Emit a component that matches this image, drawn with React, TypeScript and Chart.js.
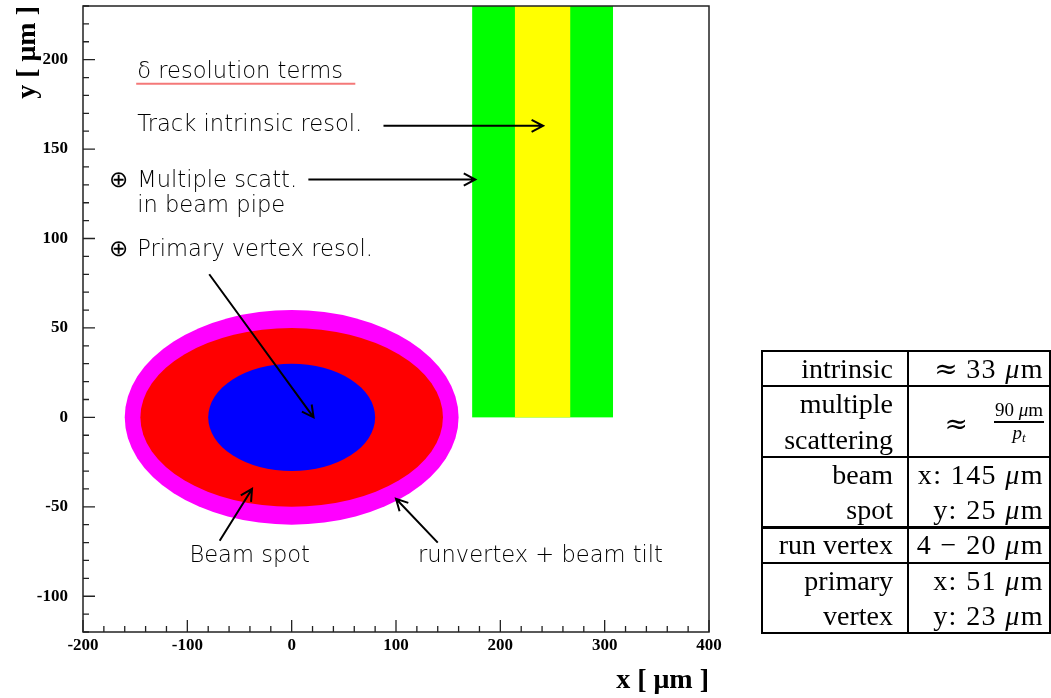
import React, { useEffect, useRef } from "react";
import { Chart, registerables } from "chart.js";

Chart.register(...registerables);

// Axis ranges and ticks (μm)
const X_MIN = -200;
const X_MAX = 400;
const Y_MIN = -120;
const Y_MAX = 230;
const xTickLabels = [-200, -100, 0, 100, 200, 300, 400];
const yTickLabels = [-100, -50, 0, 50, 100, 150, 200];
const X_MINOR_STEP = 20;
const Y_MINOR_STEP = 10;

// Track resolution bands: x extent, drawn from y = 0 up to the top of the frame
const bandNames = ["multiple scattering", "track intrinsic"];
const bandX0 = [173, 214];
const bandX1 = [308, 267];
const bandY0 = [0, 0];
const bandY1 = [230, 230];
const bandColors = ["#00ff00", "#ffff00"];

// Vertex ellipses centred on the origin (outermost first)
const ellipseNames = ["runvertex + beam tilt", "beam spot", "primary vertex"];
const ellipseCx = [0, 0, 0];
const ellipseCy = [0, 0, 0];
const ellipseRx = [160, 145, 80];
const ellipseRy = [60, 50, 30];
const ellipseColors = ["#ff00ff", "#ff0000", "#0000ff"];

// Annotation labels (left baseline, data coordinates)
const noteTexts = [
  "δ resolution terms",
  "Track intrinsic resol.",
  "⊕",
  "Multiple scatt.",
  "in beam pipe",
  "⊕",
  "Primary vertex resol.",
  "Beam spot",
  "runvertex + beam tilt",
];
const noteX = [-148, -148, -175, -148, -148, -175, -148, -98, 121];
const noteY = [190, 160, 129, 129, 115, 90, 90, -81, -81];

// Underline below the heading
const underlineX = [-149, 61];
const underlineY = 186.5;

// Arrows: start (x1, y1) -> head (x2, y2)
const arrowX1 = [88, 16, -79, -69, 140];
const arrowY1 = [163, 133, 80, -69, -70];
const arrowX2 = [241, 176, 21, -38, 100];
const arrowY2 = [163, 133, 0, -40, -45.5];

// Summary table
const tableLabels = [["intrinsic"], ["multiple", "scattering"], ["beam", "spot"], ["run vertex"], ["primary", "vertex"]];
const tableValues = [["≈ 33 μm"], ["FRACTION"], ["x: 145 μm", "y: 25 μm"], ["4 − 20 μm"], ["x: 51 μm", "y: 23 μm"]];
const fractionNumerator = "90 μm";

const NOTE_FONT = '200 22.6px "DejaVu Sans"';
const NOTE_COLOR = "#000";
const AXIS_FONT = "Liberation Serif";

function drawArrow(ctx: CanvasRenderingContext2D, x1: number, y1: number, x2: number, y2: number) {
  const ang = Math.atan2(y2 - y1, x2 - x1);
  const head = 13;
  const spread = Math.PI / 6.5;
  ctx.beginPath();
  ctx.moveTo(x1, y1);
  ctx.lineTo(x2, y2);
  ctx.moveTo(x2 - head * Math.cos(ang - spread), y2 - head * Math.sin(ang - spread));
  ctx.lineTo(x2, y2);
  ctx.lineTo(x2 - head * Math.cos(ang + spread), y2 - head * Math.sin(ang + spread));
  ctx.stroke();
}

const overlayPlugin = {
  id: "resolutionOverlay",
  beforeDatasetsDraw(chart: any) {
    const { ctx, chartArea: a, scales } = chart;
    const xs = scales.x;
    const ys = scales.y;
    ctx.save();
    ctx.beginPath();
    ctx.rect(a.left, a.top, a.right - a.left, a.bottom - a.top);
    ctx.clip();
    bandX0.forEach((x0, i) => {
      const px0 = xs.getPixelForValue(x0);
      const px1 = xs.getPixelForValue(bandX1[i]);
      const py0 = ys.getPixelForValue(bandY0[i]);
      const py1 = ys.getPixelForValue(bandY1[i]);
      ctx.fillStyle = bandColors[i];
      ctx.fillRect(px0, py1, px1 - px0, py0 - py1);
    });
    ellipseRx.forEach((rx, i) => {
      const cx = xs.getPixelForValue(ellipseCx[i]);
      const cy = ys.getPixelForValue(ellipseCy[i]);
      const rpx = Math.abs(xs.getPixelForValue(ellipseCx[i] + rx) - cx);
      const rpy = Math.abs(ys.getPixelForValue(ellipseCy[i] + ellipseRy[i]) - cy);
      ctx.fillStyle = ellipseColors[i];
      ctx.beginPath();
      ctx.ellipse(cx, cy, rpx, rpy, 0, 0, Math.PI * 2);
      ctx.fill();
    });
    ctx.restore();
  },
  afterDatasetsDraw(chart: any) {
    const { ctx, scales } = chart;
    const xs = scales.x;
    const ys = scales.y;
    ctx.save();
    ctx.font = NOTE_FONT;
    ctx.fillStyle = NOTE_COLOR;
    ctx.textAlign = "left";
    ctx.textBaseline = "alphabetic";
    noteTexts.forEach((t, i) => {
      ctx.fillText(t, xs.getPixelForValue(noteX[i]), ys.getPixelForValue(noteY[i]));
    });
    ctx.strokeStyle = "#f47878";
    ctx.lineWidth = 2;
    ctx.beginPath();
    ctx.moveTo(xs.getPixelForValue(underlineX[0]), ys.getPixelForValue(underlineY));
    ctx.lineTo(xs.getPixelForValue(underlineX[1]), ys.getPixelForValue(underlineY));
    ctx.stroke();
    ctx.strokeStyle = "#000";
    ctx.lineWidth = 2;
    arrowX1.forEach((x1, i) => {
      drawArrow(
        ctx,
        xs.getPixelForValue(x1),
        ys.getPixelForValue(arrowY1[i]),
        xs.getPixelForValue(arrowX2[i]),
        ys.getPixelForValue(arrowY2[i])
      );
    });
    ctx.restore();
  },
  afterDraw(chart: any) {
    const { ctx, chartArea: a, scales } = chart;
    const xs = scales.x;
    const ys = scales.y;
    ctx.save();
    ctx.strokeStyle = "#222";
    ctx.lineWidth = 1.5;
    ctx.strokeRect(a.left, a.top, a.right - a.left, a.bottom - a.top);
    ctx.lineWidth = 1.3;
    ctx.beginPath();
    // inward tick marks: long at labelled values, short in between
    for (let k = Math.ceil(xs.min / X_MINOR_STEP); k * X_MINOR_STEP <= xs.max; k++) {
      const v = k * X_MINOR_STEP;
      const px = xs.getPixelForValue(v);
      const len = xTickLabels.includes(v) ? 12 : 6;
      ctx.moveTo(px, a.bottom);
      ctx.lineTo(px, a.bottom - len);
    }
    for (let k = Math.ceil(ys.min / Y_MINOR_STEP); k * Y_MINOR_STEP <= ys.max; k++) {
      const v = k * Y_MINOR_STEP;
      const py = ys.getPixelForValue(v);
      const len = yTickLabels.includes(v) ? 12 : 6;
      ctx.moveTo(a.left, py);
      ctx.lineTo(a.left + len, py);
    }
    ctx.stroke();
    ctx.restore();
  },
};

function MathText({ text }: { text: string }) {
  const pieces: React.ReactNode[] = [];
  Array.from(text).forEach((ch, i) => {
    if (ch === "μ") pieces.push(<i key={i}>μ</i>);
    else if (ch === "≈")
      pieces.push(
        <span key={i} style={{ fontFamily: "DejaVu Serif", letterSpacing: 0 }}>
          ≈
        </span>
      );
    else pieces.push(ch);
  });
  return <>{pieces}</>;
}

const LINE = 35.25;
const TABLE_LEFT = 762;
const TABLE_TOP = 351;
const TABLE_RIGHT = 1050;
const COL_X = 908;

function ResolutionTable() {
  const rowTops: number[] = [];
  let acc = 0;
  tableLabels.forEach((l) => {
    rowTops.push(acc);
    acc += l.length;
  });
  const total = acc;
  const textStyle: React.CSSProperties = {
    position: "absolute",
    fontFamily: AXIS_FONT,
    fontSize: 28,
    lineHeight: `${LINE}px`,
    textAlign: "right",
    color: "#000",
    whiteSpace: "nowrap",
  };
  return (
    <>
      <div
        style={{
          position: "absolute",
          left: TABLE_LEFT - 1,
          top: TABLE_TOP - 1,
          width: TABLE_RIGHT - TABLE_LEFT + 2,
          height: total * LINE + 2,
          border: "2px solid #000",
          boxSizing: "border-box",
        }}
      />
      <div style={{ position: "absolute", left: COL_X - 1, top: TABLE_TOP, width: 2, height: total * LINE, background: "#000" }} />
      {rowTops.slice(1).map((r, i) => (
        <div
          key={"h" + i}
          style={{
            position: "absolute",
            left: TABLE_LEFT,
            width: TABLE_RIGHT - TABLE_LEFT,
            top: TABLE_TOP + r * LINE - (i === 2 ? 1.5 : 1),
            height: i === 2 ? 3 : 2,
            background: "#000",
          }}
        />
      ))}
      {tableLabels.map((lines, ri) => (
        <div
          key={"l" + ri}
          style={{ ...textStyle, left: TABLE_LEFT, width: COL_X - TABLE_LEFT - 15, top: TABLE_TOP + rowTops[ri] * LINE }}
        >
          {lines.map((t, k) => (
            <div key={k}>{t}</div>
          ))}
        </div>
      ))}
      {tableValues.map((lines, ri) => (
        <div
          key={"v" + ri}
          style={{
            ...textStyle,
            left: COL_X + 1,
            width: TABLE_RIGHT - COL_X - 7,
            top: TABLE_TOP + rowTops[ri] * LINE,
            height: tableLabels[ri].length * LINE,
            letterSpacing: "1.4px",
          }}
        >
          {lines[0] === "FRACTION" ? (
            <div
              style={{
                height: tableLabels[ri].length * LINE,
                display: "flex",
                justifyContent: "flex-end",
                alignItems: "center",
                letterSpacing: 0,
              }}
            >
              <span style={{ marginRight: 26, fontFamily: "DejaVu Serif", marginTop: 4 }}>≈</span>
              <span
                style={{
                  display: "inline-flex",
                  flexDirection: "column",
                  alignItems: "center",
                  fontSize: 19,
                  lineHeight: "20px",
                  marginTop: 4,
                }}
              >
                <span style={{ borderBottom: "2.5px solid #000", padding: "0 1px 1px" }}>
                  <MathText text={fractionNumerator} />
                </span>
                <span>
                  <i>p</i>
                  <i style={{ fontSize: 13, verticalAlign: "-3px" }}>t</i>
                </span>
              </span>
            </div>
          ) : (
            lines.map((t, k) => (
              <div key={k}>
                <MathText text={t} />
              </div>
            ))
          )}
        </div>
      ))}
    </>
  );
}

export default function App() {
  const canvasRef = useRef<HTMLCanvasElement | null>(null);

  useEffect(() => {
    if (!canvasRef.current) return;
    const chart = new Chart(canvasRef.current, {
      type: "scatter",
      data: { datasets: [] },
      plugins: [overlayPlugin],
      options: {
        animation: false,
        responsive: false,
        maintainAspectRatio: false,
        layout: { padding: { top: 6, right: 342, left: 0, bottom: 0 } },
        plugins: { legend: { display: false }, tooltip: { enabled: false } },
        scales: {
          x: {
            type: "linear",
            position: "bottom",
            min: X_MIN,
            max: X_MAX,
            grid: { display: false, drawTicks: false },
            border: { display: false },
            afterBuildTicks: (s: any) => {
              s.ticks = xTickLabels.map((v) => ({ value: v }));
            },
            ticks: {
              autoSkip: false,
              maxRotation: 0,
              padding: 3,
              color: "#000",
              font: { family: AXIS_FONT, weight: "bold", size: 17 },
            },
            title: {
              display: true,
              text: "x [ μm ]",
              align: "end",
              color: "#000",
              padding: 0,
              font: { family: AXIS_FONT, weight: "bold", size: 28 },
            },
            afterFit: (s: any) => {
              s.height = 66;
              s.paddingLeft = 0;
              s.paddingRight = 0;
            },
          },
          y: {
            type: "linear",
            position: "left",
            min: Y_MIN,
            max: Y_MAX,
            grid: { display: false, drawTicks: false },
            border: { display: false },
            afterBuildTicks: (s: any) => {
              s.ticks = yTickLabels.map((v) => ({ value: v }));
            },
            ticks: {
              autoSkip: false,
              padding: 15,
              color: "#000",
              font: { family: AXIS_FONT, weight: "bold", size: 17 },
            },
            title: {
              display: true,
              text: "y [ μm ]",
              align: "end",
              color: "#000",
              padding: 11,
              font: { family: AXIS_FONT, weight: "bold", size: 28 },
            },
            afterFit: (s: any) => {
              s.width = 83;
              s.paddingTop = 0;
              s.paddingBottom = 0;
            },
          },
        },
      } as any,
    });
    return () => chart.destroy();
  }, []);

  return (
    <div style={{ position: "fixed", left: 0, top: 0, width: 1051, height: 698, background: "#fff" }}>
      <canvas ref={canvasRef} width={1051} height={698} style={{ position: "absolute", left: 0, top: 0 }} />
      <ResolutionTable />
    </div>
  );
}
